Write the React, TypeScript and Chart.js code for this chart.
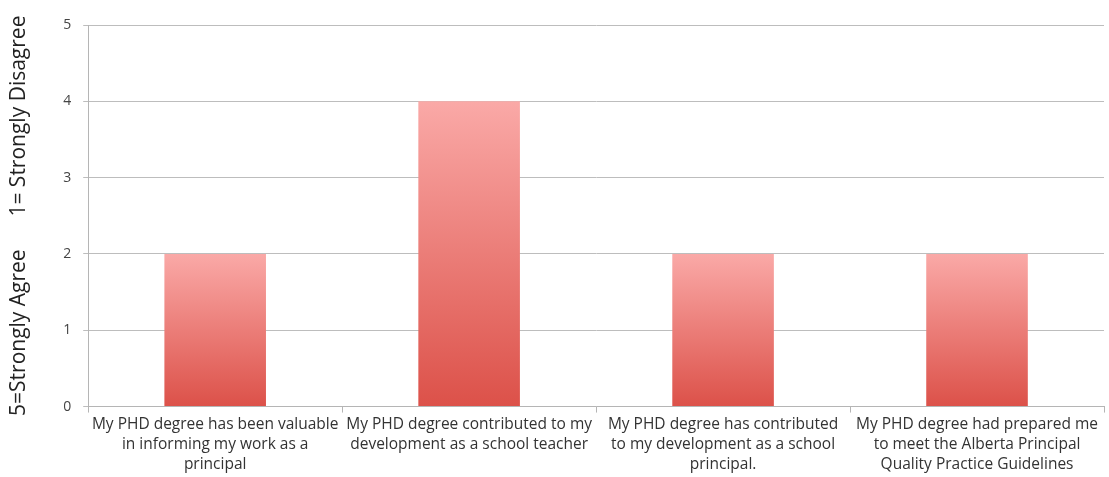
import React, { useEffect, useRef } from "react";
import { Chart, registerables } from "chart.js";

Chart.register(...registerables);

const categories: string[][] = [
  ["My PHD degree has been valuable", "in informing my work as a", "principal"],
  ["My PHD degree contributed to my", "development as a school teacher"],
  ["My PHD degree has contributed", "to my development as a school", "principal."],
  ["My PHD degree had prepared me", "to meet the Alberta Principal", "Quality Practice Guidelines"],
];
const values: number[] = [2, 4, 2, 2];
const yTitle = "5=Strongly Agree      1= Strongly Disagree";

const GRAD_TOP = "#FAA9A7";
const GRAD_BOTTOM = "#DC5149";

export default function App() {
  const ref = useRef<HTMLCanvasElement | null>(null);
  useEffect(() => {
    if (!ref.current) return;
    const chart = new Chart(ref.current, {
      type: "bar",
      data: {
        labels: categories,
        datasets: [
          {
            data: values,
            backgroundColor: (ctx: any) => {
              const c = ctx.chart;
              const y = c.scales?.y;
              if (!y || ctx.parsed === undefined) return GRAD_BOTTOM;
              const top = y.getPixelForValue(ctx.parsed.y);
              const bottom = y.getPixelForValue(0);
              if (!isFinite(top) || !isFinite(bottom) || top === bottom) return GRAD_BOTTOM;
              const g = c.ctx.createLinearGradient(0, top, 0, bottom);
              g.addColorStop(0, GRAD_TOP);
              g.addColorStop(1, GRAD_BOTTOM);
              return g;
            },
            borderWidth: 0,
            barPercentage: 0.4,
            categoryPercentage: 1,
          },
        ],
      },
      options: {
        animation: false,
        responsive: true,
        maintainAspectRatio: false,
        layout: { padding: { top: 25, right: 5, bottom: 0, left: 6 } },
        plugins: { legend: { display: false }, tooltip: { enabled: false } },
        scales: {
          x: {
            grid: {
              drawOnChartArea: false,
              drawTicks: true,
              tickLength: 6,
              color: "#b5b5b5",
            },
            border: { color: "#b5b5b5" },
            ticks: {
              autoSkip: false,
              maxRotation: 0,
              minRotation: 0,
              color: "#333333",
              padding: 2,
              font: { family: "Open Sans", size: 15.5, lineHeight: 1.3 },
            },
          },
          y: {
            min: 0,
            max: 5,
            ticks: {
              stepSize: 1,
              color: "#444444",
              padding: 12,
              font: { family: "Open Sans", size: 14 },
            },
            grid: { color: "#bdbdbd", tickLength: 5 },
            border: { color: "#b5b5b5" },
            title: {
              display: true,
              text: yTitle,
              color: "#222222",
              padding: { top: 0, bottom: 20 },
              font: { family: "Open Sans", size: 21 },
            },
          },
        },
      },
    });
    return () => chart.destroy();
  }, []);
  return (
    <div style={{ position: "fixed", left: 0, top: 0, width: 1109, height: 477, background: "#fff" }}>
      <canvas ref={ref} />
    </div>
  );
}
